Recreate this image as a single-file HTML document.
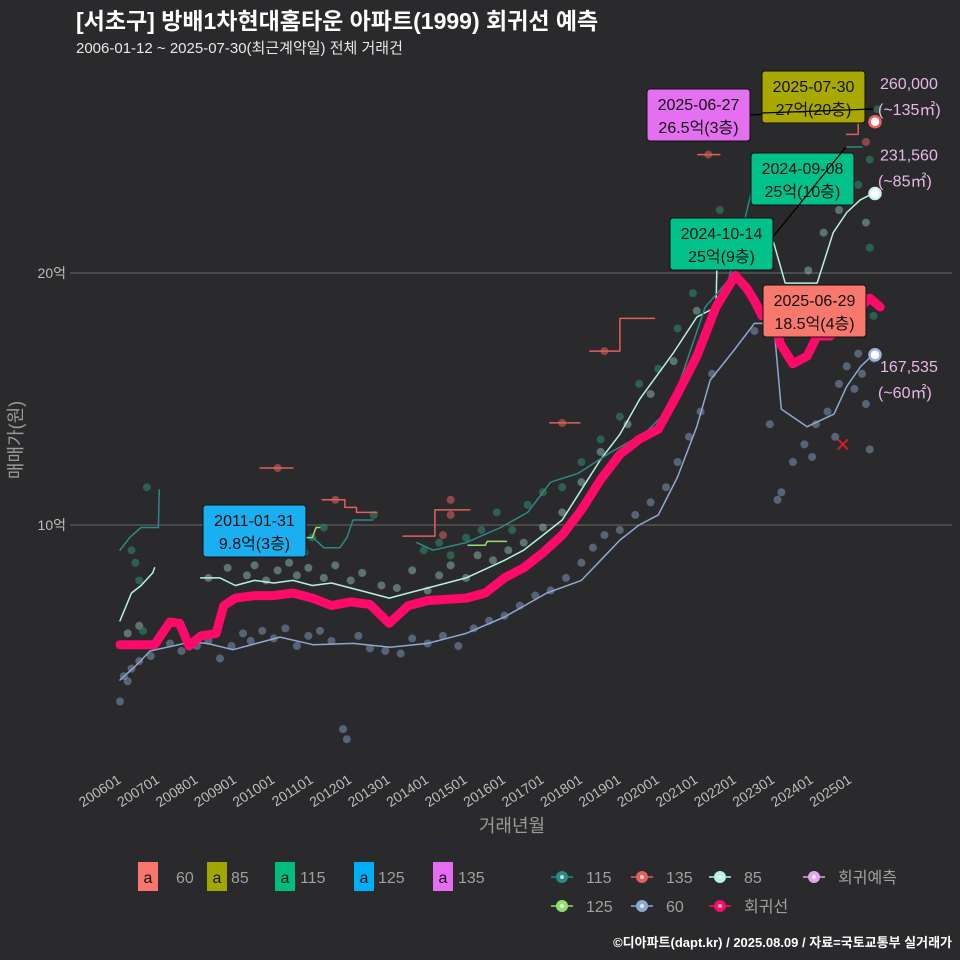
<!DOCTYPE html>
<html><head><meta charset="utf-8">
<style>
html,body{margin:0;padding:0;background:#2a2a2c;}
svg{display:block;font-family:"Liberation Sans","Noto Sans CJK KR",sans-serif;}
</style></head>
<body>
<svg id="chart" width="960" height="960" viewBox="0 0 960 960">
<rect width="960" height="960" fill="#2a2a2c"/>
<text x="76" y="29" fill="#ffffff" font-size="23" font-weight="bold">[서초구] 방배1차현대홈타운 아파트(1999) 회귀선 예측</text>
<text x="76" y="53" fill="#e8e8e8" font-size="15">2006-01-12 ~ 2025-07-30(최근계약일) 전체 거래건</text>
<g id="grid"></g>
<g id="marks"></g>
<g id="annot"></g>
<text x="512" y="832" fill="#9a9a9a" font-size="18" text-anchor="middle">거래년월</text>
<text transform="translate(22,440) rotate(-90)" fill="#9a9a9a" font-size="18" text-anchor="middle">매매가(원)</text>
<g id="legend"></g>
<text x="952" y="947" fill="#ffffff" font-size="13" font-weight="bold" text-anchor="end">©디아파트(dapt.kr) / 2025.08.09 / 자료=국토교통부 실거래가</text>
</svg>
<script>
const xTickLabels = ["200601","200701","200801","200901","201001","201101","201201","201301","201401","201501","201601","201701","201801","201901","202001","202101","202201","202301","202401","202501"];
const yTickValues = [10, 20];
const yTickLabels = ["10억", "20억"];

const regLine = [[2006.0,5.25],[2006.9,5.25],[2007.1,5.7],[2007.3,6.15],[2007.55,6.1],[2007.8,5.2],[2008.1,5.6],[2008.5,5.7],[2008.7,6.8],[2009.0,7.1],[2009.5,7.2],[2010.0,7.2],[2010.5,7.3],[2011.0,7.1],[2011.5,6.8],[2012.0,6.95],[2012.5,6.85],[2013.0,6.1],[2013.5,6.8],[2014.0,7.0],[2015.0,7.1],[2015.5,7.3],[2016.0,7.9],[2016.5,8.3],[2017.0,8.9],[2017.5,9.6],[2018.0,10.6],[2018.5,11.8],[2019.0,12.8],[2019.5,13.4],[2020.0,13.8],[2020.5,15.2],[2021.0,16.7],[2021.5,18.65],[2021.8,19.4],[2022.0,19.9],[2022.3,19.4],[2022.5,18.9],[2022.7,18.3],[2023.0,18.3],[2023.17,17.2],[2023.5,16.4],[2023.87,16.7],[2024.13,17.5],[2024.47,17.5],[2025.0,18.3],[2025.5,19.0],[2025.77,18.65]];
const line85a = [[2006.0,6.2],[2006.3,7.3],[2006.55,7.6],[2006.85,8.1],[2006.9,8.3]];
const line85b = [[2008.1,7.9],[2008.6,7.9],[2009.0,7.6],[2009.5,7.8],[2010.0,7.7],[2010.5,7.8],[2011.0,7.6],[2011.5,7.7],[2012.0,7.5],[2012.5,7.3],[2013.0,7.1],[2013.5,7.3],[2014.0,7.5],[2015.0,7.9],[2016.0,8.6],[2016.5,9.0],[2017.0,9.6],[2017.5,10.2],[2018.0,11.4],[2018.5,12.6],[2019.0,13.6],[2019.52,15.0],[2020.38,16.8],[2021.0,18.25],[2021.5,18.65],[2021.55,22.0],[2022.5,22.0],[2023.0,21.2],[2023.3,19.6],[2024.13,19.6],[2024.55,21.6],[2024.9,22.4],[2025.25,22.9],[2025.58,23.16]];
const line60 = [[2006.0,3.85],[2006.4,4.4],[2006.78,5.0],[2007.82,5.35],[2008.26,5.3],[2008.94,5.05],[2010.16,5.55],[2011.02,5.25],[2012.06,5.3],[2013.02,5.15],[2014.0,5.3],[2015.0,5.7],[2016.0,6.35],[2017.1,7.3],[2018.0,7.8],[2018.5,8.6],[2019.0,9.4],[2019.5,10.0],[2020.0,10.4],[2020.5,11.9],[2021.0,13.9],[2021.35,15.75],[2021.95,16.9],[2022.5,18.0],[2023.0,18.0],[2023.2,14.6],[2023.87,13.9],[2024.57,14.4],[2024.9,15.5],[2025.27,16.3],[2025.58,16.75]];
const line115a = [[2006.0,9.0],[2006.25,9.5],[2006.55,9.9],[2007.0,9.9],[2007.02,11.4]];
const line115b = [[2011.02,9.5],[2011.3,9.1],[2011.72,9.1],[2011.9,9.5],[2012.06,10.2],[2012.58,10.2]];
const line115c = [[2013.72,9.3],[2014.14,9.0],[2015.0,9.3],[2015.9,9.9],[2016.6,10.5],[2017.2,11.7],[2017.92,12.05],[2018.78,12.9],[2019.66,13.65],[2020.34,14.7],[2021.22,18.65],[2021.82,19.7],[2022.26,22.2],[2022.42,23.2],[2022.92,24.0]];
const line115d = [[2024.9,25.0],[2025.3,25.0]];
const line135 = [
  [[2009.64,12.26],[2010.5,12.26]],
  [[2011.26,11.0],[2011.85,11.0],[2011.85,10.7],[2012.15,10.7],[2012.15,10.5],[2012.68,10.5]],
  [[2013.36,9.56],[2014.19,9.56],[2014.19,10.6],[2015.1,10.6]],
  [[2017.18,14.05],[2017.96,14.05]],
  [[2018.22,16.9],[2019.0,16.9],[2019.0,18.2],[2019.9,18.2]],
  [[2021.03,24.7],[2021.6,24.7]],
  [[2024.9,25.5],[2025.2,25.5],[2025.2,26.0]]
];
const line125 = [
  [[2010.76,9.5],[2011.0,9.5],[2011.1,9.9],[2011.2,9.9]],
  [[2015.05,9.2],[2015.5,9.2],[2015.55,9.35],[2016.05,9.35]]
];
const pts60 = [[2006.0,3.0],[2006.1,4.0],[2006.2,3.8],[2006.3,4.3],[2006.5,4.6],[2006.8,4.8],[2007.3,5.3],[2007.6,5.0],[2008.0,5.2],[2008.3,5.4],[2008.6,4.7],[2008.9,5.2],[2009.2,5.7],[2009.4,5.4],[2009.7,5.8],[2010.0,5.5],[2010.3,5.9],[2010.6,5.2],[2010.9,5.6],[2011.2,5.8],[2011.5,5.4],[2011.8,1.9],[2011.9,1.5],[2012.2,5.6],[2012.5,5.1],[2012.9,5.0],[2013.3,4.9],[2013.6,5.5],[2014.0,5.3],[2014.4,5.6],[2014.8,5.2],[2015.2,5.9],[2015.6,6.2],[2016.0,6.4],[2016.4,6.8],[2016.8,7.2],[2017.2,7.4],[2017.6,7.9],[2018.0,8.5],[2018.3,9.1],[2018.6,9.6],[2019.0,9.8],[2019.4,10.4],[2019.8,10.9],[2020.2,11.5],[2020.5,12.5],[2020.8,13.5],[2021.1,14.5],[2021.4,16.0],[2022.5,17.7],[2022.9,14.0],[2023.1,11.0],[2023.2,11.3],[2023.8,13.2],[2024.1,14.0],[2024.4,14.5],[2024.7,15.6],[2024.9,16.3],[2025.1,15.4],[2025.3,16.0],[2025.4,14.8],[2025.5,13.0],[2025.6,16.6],[2023.5,12.5],[2024.0,12.7],[2024.6,13.5],[2025.2,16.8]];
const pts85 = [[2006.2,5.7],[2006.5,6.0],[2008.3,7.9],[2008.8,8.3],[2009.3,8.0],[2009.5,8.4],[2009.8,7.8],[2010.1,8.2],[2010.4,8.5],[2010.6,8.0],[2010.9,8.3],[2011.3,7.9],[2011.6,8.4],[2012.0,7.8],[2012.3,8.1],[2012.8,7.6],[2013.2,7.5],[2013.6,8.2],[2014.0,7.4],[2014.3,8.0],[2014.6,8.4],[2015.0,7.9],[2015.3,8.8],[2015.7,8.6],[2016.1,9.0],[2016.5,9.3],[2017.0,9.9],[2017.5,10.5],[2018.0,11.7],[2018.5,12.9],[2019.2,14.0],[2019.8,15.2],[2020.4,16.5],[2021.0,18.5],[2023.3,18.5],[2023.9,20.1],[2024.3,21.6],[2024.7,22.5],[2025.0,23.5],[2025.4,22.0]];
const pts115 = [[2006.7,11.5],[2006.3,9.0],[2006.4,8.5],[2006.5,7.8],[2006.6,5.8],[2010.8,8.9],[2011.0,9.5],[2011.3,9.9],[2012.6,10.4],[2013.9,9.0],[2014.3,9.3],[2014.6,8.8],[2015.0,9.5],[2015.4,9.8],[2015.8,10.5],[2016.2,9.8],[2016.6,10.8],[2017.0,11.3],[2017.5,11.5],[2018.0,12.5],[2018.5,13.4],[2019.0,14.3],[2019.5,15.6],[2020.0,16.2],[2020.5,17.8],[2020.9,19.2],[2021.3,20.7],[2021.6,22.5],[2022.5,21.0],[2024.1,18.0],[2024.8,24.0],[2025.2,23.5],[2025.5,24.5],[2025.5,21.0],[2025.6,18.3],[2025.7,26.5]];
const pts135 = [[2010.1,12.26],[2011.6,11.0],[2014.4,9.6],[2014.6,11.0],[2014.6,10.4],[2017.5,14.05],[2018.6,16.9],[2021.3,24.7],[2025.4,25.2]];
const endValues = [26.0, 23.156, 16.7535];
const endLabels = [["260,000","(~135㎡)"],["231,560","(~85㎡)"],["167,535","(~60㎡)"]];

const NS = "http://www.w3.org/2000/svg";
const X = yr => 120 + (yr - 2006) * 38.45;
const Y = v => 777 - v * 25.2;
function mk(tag, attrs, parent, txt){
  const e = document.createElementNS(NS, tag);
  for (const k in attrs) e.setAttribute(k, attrs[k]);
  if (txt !== undefined) e.textContent = txt;
  parent.appendChild(e);
  return e;
}
const grid = document.getElementById('grid');
const marks = document.getElementById('marks');
const annot = document.getElementById('annot');
const legend = document.getElementById('legend');

yTickValues.forEach((v,i)=>{
  const l = mk('line',{x1:70,x2:952,y1:Y(v),y2:Y(v),stroke:'#6a6a6a','stroke-width':1},grid);
  
  
  const t = mk('text',{x:66,y:Y(v)+5,fill:'#bdbdbd','font-size':14,'text-anchor':'end'},grid,yTickLabels[i]);
  
  
});
xTickLabels.forEach((lab,i)=>{
  const x = X(2006+i);
  const t = mk('text',{transform:`translate(${x+2},${782}) rotate(-33)`,fill:'#bdbdbd','font-size':14,'text-anchor':'end'},grid,lab);
  
  
});

function path(pts){ return pts.map((p,i)=>(i?'L':'M')+X(p[0]).toFixed(1)+','+Y(p[1]).toFixed(1)).join(''); }
function dots(arr, color, op, name){
  arr.forEach(p=>{
    const c = mk('circle',{cx:X(p[0]),cy:Y(p[1]),r:4,fill:color,'fill-opacity':op},marks);
    
    
  });
}
function line(pts,color,w,name){
  const e = mk('path',{d:path(pts),fill:'none',stroke:color,'stroke-width':w,'stroke-linejoin':'round','stroke-linecap':'round'},marks);
  
  
}
dots(pts60,'#8fa8d0',0.45,'point-60');
dots(pts85,'#a8e0d8',0.4,'point-85');
dots(pts115,'#2f8a78',0.55,'point-115');
dots(pts135,'#e06060',0.55,'point-135');
line(line60,'#8fa8d0',1.5,'line-60');
line(line85a,'#b8f0e8',1.5,'line-85');
line(line85b,'#b8f0e8',1.5,'line-85');
[line115a,line115b,line115c,line115d].forEach(s=>line(s,'#2a8a86',1.5,'line-115'));
line135.forEach(s=>line(s,'#e0605a',1.5,'line-135'));
line125.forEach(s=>line(s,'#90e070',1.5,'line-125'));
line(regLine,'#ff0a6a',9,'regression-line');

const cx = X(2024.8), cy = Y(13.2);
const cr = mk('path',{d:`M${cx-5},${cy-5}L${cx+5},${cy+5}M${cx-5},${cy+5}L${cx+5},${cy-5}`,stroke:'#d02020','stroke-width':2},marks);



const endColors = ['#f06060','#c8f4ee','#9ab4dc'];
endValues.forEach((v,i)=>{
  const c = mk('circle',{cx:875,cy:Y(v),r:5.5,fill:'#ffffff',stroke:endColors[i],'stroke-width':2.5},marks);
  
  
  const t1 = mk('text',{x:880,y:Y(v)-33+(i==2?50:0),fill:'#e8b8e8','font-size':16},annot,endLabels[i][0]);
  
  
  const t2 = mk('text',{x:878,y:Y(v)-7+(i==2?50:0),fill:'#e8b8e8','font-size':16},annot,endLabels[i][1]);
  
  
});

const l1 = mk('line',{x1:750,y1:115,x2:873,y2:109,stroke:'#000','stroke-width':1.3},annot);


const boxes = [
  [203,505,'#19aff0','2011-01-31','9.8억(3층)'],
  [647,89,'#e46ff0','2025-06-27','26.5억(3층)'],
  [762,71,'#a8a800','2025-07-30','27억(20층)'],
  [751,153,'#00c18a','2024-09-08','25억(10층)'],
  [670,218,'#00c18a','2024-10-14','25억(9층)'],
  [763,285,'#f7786c','2025-06-29','18.5억(4층)']
];
boxes.forEach((b,i)=>{
  const g = mk('g',{},annot);
  
  
  mk('rect',{x:b[0],y:b[1],width:103,height:52,rx:3,fill:b[2],stroke:'#111','stroke-width':1},g);
  mk('text',{x:b[0]+51.5,y:b[1]+21,'font-size':16,'text-anchor':'middle',fill:'#111'},g,b[3]);
  mk('text',{x:b[0]+51.5,y:b[1]+44,'font-size':16,'text-anchor':'middle',fill:'#111'},g,b[4]);
  if(i==2){
    const l = mk('line',{x1:762,y1:113,x2:873,y2:109,stroke:'#000','stroke-width':1.3},annot);
    
    
  }
  if(i==3){
    const l = mk('line',{x1:772,y1:238,x2:846,y2:147,stroke:'#000','stroke-width':1.3},annot);
    
    
  }
});

const fillLeg = [['60','#f8766d',138,176],['85','#a3a500',207,231],['115','#00bf7d',275,300],['125','#00b0f6',354,378],['135','#e76bf3',433,458]];
fillLeg.forEach(f=>{
  const g = mk('g',{},legend);
  
  
  mk('rect',{x:f[2],y:862,width:20,height:29,fill:f[1]},g);
  mk('text',{x:f[2]+10,y:883,'font-size':16,'text-anchor':'middle',fill:'#111'},g,'a');
  mk('text',{x:f[3],y:883,'font-size':16,fill:'#a0a0a0'},g,f[0]);
});
const lineLeg = [['115','#2a8a86',562,877],['135','#e0605a',642,877],['85','#b8f0e8',720,877],['회귀예측','#e0a8e8',814,877],['125','#90e070',562,906],['60','#8fa8d0',642,906],['회귀선','#ff0a6a',720,906]];
lineLeg.forEach(f=>{
  const g = mk('g',{},legend);
  
  
  mk('line',{x1:f[2]-11,x2:f[2]+11,y1:f[3],y2:f[3],stroke:f[1],'stroke-width':1.5},g);
  mk('circle',{cx:f[2],cy:f[3],r:6,fill:f[1]},g);
  mk('circle',{cx:f[2],cy:f[3],r:2,fill:'#ffffff','fill-opacity':0.7},g);
  mk('text',{x:f[2]+24,y:f[3]+6,'font-size':16,fill:'#a0a0a0'},g,f[0]);
});
</script>
</body></html>
